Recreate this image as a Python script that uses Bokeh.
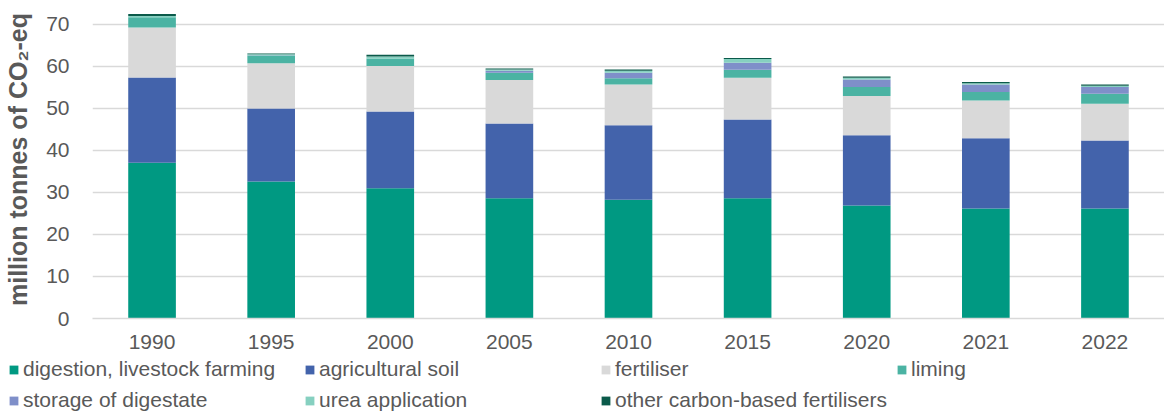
from bokeh.plotting import figure
from bokeh.layouts import column
from bokeh.models import Legend, LegendItem, Range1d, FactorRange, ColumnDataSource
from bokeh.embed import file_html
from bokeh.resources import INLINE

years = ["1990", "1995", "2000", "2005", "2010", "2015", "2020", "2021", "2022"]
digestion = [37.1, 32.6, 31.0, 28.6, 28.3, 28.6, 26.9, 26.2, 26.2]
agri_soil = [20.3, 17.4, 18.3, 17.8, 17.7, 18.8, 16.7, 16.7, 16.2]
fertiliser = [11.9, 10.8, 10.8, 10.4, 9.7, 9.9, 9.4, 9.0, 8.7]
liming = [2.4, 1.8, 1.8, 1.7, 1.5, 1.9, 2.1, 2.0, 2.4]
storage = [0.0, 0.1, 0.0, 0.5, 1.3, 1.7, 1.8, 1.8, 1.6]
urea = [0.3, 0.2, 0.5, 0.3, 0.5, 0.9, 0.4, 0.3, 0.3]
other_c = [0.5, 0.2, 0.4, 0.2, 0.3, 0.2, 0.3, 0.3, 0.3]

names = ["digestion, livestock farming", "agricultural soil", "fertiliser", "liming",
         "storage of digestate", "urea application", "other carbon-based fertilisers"]
keys = ["digestion", "agri_soil", "fertiliser", "liming", "storage", "urea", "other_c"]
colors = ["#009982", "#4363ab", "#d9d9d9", "#4bb3a3", "#7f8fc9", "#86d0c0", "#0b5a4a"]

FONT = "Liberation Sans"
GREY = "#595959"

src = ColumnDataSource(dict(years=years, digestion=digestion, agri_soil=agri_soil,
                            fertiliser=fertiliser, liming=liming, storage=storage,
                            urea=urea, other_c=other_c))

p = figure(width=1164, height=358, x_range=FactorRange(*years), y_range=Range1d(0, 75.71),
           output_backend="svg", toolbar_location=None,
           min_border_left=92, min_border_right=0, min_border_top=0, min_border_bottom=40)
p.frame_align = False
p.outline_line_color = None
p.background_fill_color = "white"

rs = p.vbar_stack(keys, x="years", width=0.40, source=src, color=colors, line_color=None)

p.xgrid.grid_line_color = None
p.ygrid.grid_line_color = "#d9d9d9"
p.ygrid.grid_line_width = 1.5
p.yaxis.ticker = [0, 10, 20, 30, 40, 50, 60, 70]
p.yaxis.axis_line_color = None
p.yaxis.major_tick_line_color = None
p.yaxis.minor_tick_line_color = None
p.yaxis.major_label_standoff = 17
p.yaxis.major_label_text_font = FONT
p.yaxis.major_label_text_font_size = "21px"
p.yaxis.major_label_text_color = GREY
p.yaxis.axis_label = "million tonnes of CO₂-eq"
p.yaxis.axis_label_text_font = FONT
p.yaxis.axis_label_text_font_style = "bold"
p.yaxis.axis_label_text_font_size = "25px"
p.yaxis.axis_label_text_color = GREY
p.yaxis.axis_label_standoff = 11

p.xaxis.axis_line_color = "#d9d9d9"
p.xaxis.axis_line_width = 1.5
p.xaxis.major_tick_line_color = None
p.xaxis.minor_tick_line_color = None
p.xaxis.major_label_standoff = 10
p.xaxis.major_label_text_font = FONT
p.xaxis.major_label_text_font_size = "21px"
p.xaxis.major_label_text_color = GREY

# legend panel (separate strip below the chart)
p2 = figure(width=1164, height=56, x_range=Range1d(0, 1), y_range=Range1d(0, 1),
            output_backend="svg", toolbar_location=None, min_border=0,
            x_axis_location=None, y_axis_location=None)
p2.frame_align = False
p2.outline_line_color = None
p2.grid.grid_line_color = None
# zero-height proxies only carry the legend swatch colours
proxies = [p2.vbar(x=[0], top=[0], width=0.01, color=c, line_color=None) for c in colors]
order = [0, 4, 1, 5, 2, 6, 3]  # column-major fill -> reads row-wise
items = [LegendItem(label=names[i], renderers=[proxies[i]]) for i in order]
legend = Legend(items=items, ncols=4, location=(8, 2),
                label_text_font=FONT, label_text_font_size="21px",
                label_text_color=GREY, glyph_width=11, glyph_height=11,
                label_standoff=4, label_width=274, label_height=20, spacing=7,
                padding=0, margin=0, border_line_color=None, background_fill_alpha=0)
p2.add_layout(legend, "center")

layout = column(p, p2, spacing=0)
open("out.html", "w").write(file_html(layout, INLINE))
